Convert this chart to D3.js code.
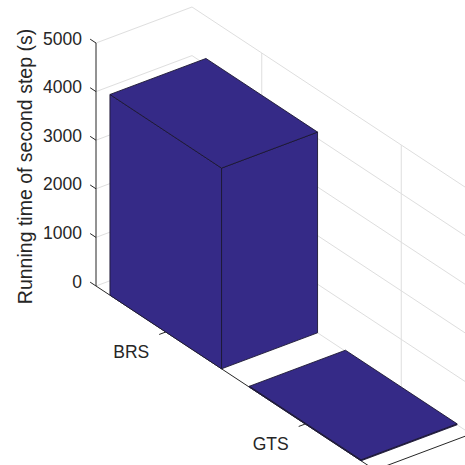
<!DOCTYPE html>
<html>
<head>
<meta charset="utf-8">
<script src="https://cdn.jsdelivr.net/npm/d3@7"></script>
<style>
  html, body { margin: 0; padding: 0; background: #fff; }
  svg { display: block; }
  text { font-family: "Liberation Sans", Arial, sans-serif; fill: #262626; }
</style>
</head>
<body>
<svg id="chart" width="465" height="465"></svg>
<script>
// Data
const categories = ["BRS", "GTS"];
const runningTime = [4130, 20];
const zTickValues = [0, 1000, 2000, 3000, 4000, 5000];
const zTickLabels = ["0", "1000", "2000", "3000", "4000", "5000"];
const yLabel = "Running time of second step (s)";

// 3-D axes limits (bar3 style: bars along y, single column along x)
const barWidth = 0.8;
const xLim = [0.6, 1.4];
const yLim = [0.5, 2.5];
const zLim = [0, 5000];

// Oblique projection built from linear scales
const xs = d3.scaleLinear().domain(xLim).range([0, 1]);
const ys = d3.scaleLinear().domain(yLim).range([0, 1]);
const zs = d3.scaleLinear().domain(zLim).range([286, 43]);
const origin = 96;                // screen x of (xmin, ymin)
const EX = [96, -36];             // screen span of the full x range
const EY = [279, 184];            // screen span of the full y range

function proj(x, y, z) {
  return [
    origin + xs(x) * EX[0] + ys(y) * EY[0],
    zs(z) + xs(x) * EX[1] + ys(y) * EY[1]
  ];
}
const line = d3.line();

const svg = d3.select("#chart");
const gGrid = svg.append("g");
const gAxes = svg.append("g");
const gBars = svg.append("g");
const gText = svg.append("g");

const gridColor = "#dedede";
const axisColor = "#262626";

// Grid on the left wall (y = ymin) and back wall (x = xmax)
zTickValues.forEach(v => {
  gGrid.append("path")
    .attr("d", line([proj(xLim[0], yLim[0], v), proj(xLim[1], yLim[0], v), proj(xLim[1], yLim[1], v)]))
    .attr("fill", "none").attr("stroke", gridColor).attr("stroke-width", 1);
});
// Category grid: vertical on the back wall, and across the floor
categories.forEach((c, i) => {
  const yv = i + 1;
  gGrid.append("path")
    .attr("d", line([proj(xLim[0], yv, 0), proj(xLim[1], yv, 0), proj(xLim[1], yv, zLim[1])]))
    .attr("fill", "none").attr("stroke", gridColor).attr("stroke-width", 1);
});

// Axis lines
gAxes.append("path")
  .attr("d", line([proj(xLim[0], yLim[0], zLim[1]), proj(xLim[0], yLim[0], 0)]))
  .attr("fill", "none").attr("stroke", axisColor).attr("stroke-width", 1);
gAxes.append("path")
  .attr("d", line([proj(xLim[0], yLim[0], 0), proj(xLim[0], yLim[1], 0), proj(xLim[1], yLim[1], 0)]))
  .attr("fill", "none").attr("stroke", axisColor).attr("stroke-width", 1);

// z ticks (pointing along -y) and labels
const eyLen = Math.hypot(EY[0], EY[1]);
const exLen = Math.hypot(EX[0], EX[1]);
const tickLen = 7;
zTickValues.forEach((v, i) => {
  const p = proj(xLim[0], yLim[0], v);
  gAxes.append("path")
    .attr("d", line([p, [p[0] - EY[0] / eyLen * tickLen, p[1] - EY[1] / eyLen * tickLen]]))
    .attr("stroke", axisColor).attr("stroke-width", 1);
  gText.append("text")
    .attr("x", 82).attr("y", p[1] - 4.5)
    .attr("dy", "0.35em")
    .attr("text-anchor", "end")
    .attr("font-size", "17.5px")
    .text(zTickLabels[i]);
});

// Category ticks (pointing along -x) and labels
categories.forEach((c, i) => {
  const p = proj(xLim[0], i + 1, 0);
  gAxes.append("path")
    .attr("d", line([p, [p[0] - EX[0] / exLen * tickLen, p[1] - EX[1] / exLen * tickLen]]))
    .attr("stroke", axisColor).attr("stroke-width", 1);
  gText.append("text")
    .attr("x", p[0] - 34.5).attr("y", p[1] + 19.5)
    .attr("dy", "0.35em")
    .attr("text-anchor", "middle")
    .attr("font-size", "17.5px")
    .text(c);
});

// Axis title
gText.append("text")
  .attr("transform", "translate(25,166.5) rotate(-90)")
  .attr("dy", "0.35em")
  .attr("text-anchor", "middle")
  .attr("font-size", "19.5px")
  .text(yLabel);

// Bars: visible faces are x = x0, y = y1 and the top
const barFill = "#352a87";
runningTime.forEach((h, i) => {
  const y0 = i + 1 - barWidth / 2, y1 = i + 1 + barWidth / 2;
  const x0 = xLim[0], x1 = xLim[1];
  const faces = [
    [[x0, y0, 0], [x0, y1, 0], [x0, y1, h], [x0, y0, h]],
    [[x0, y1, 0], [x1, y1, 0], [x1, y1, h], [x0, y1, h]],
    [[x0, y0, h], [x1, y0, h], [x1, y1, h], [x0, y1, h]]
  ];
  gBars.selectAll(null)
    .data(faces)
    .join("path")
    .attr("d", f => line(f.map(p => proj(...p))) + "Z")
    .attr("fill", barFill)
    .attr("stroke", "#1c1733")
    .attr("stroke-width", 0.9)
    .attr("stroke-linejoin", "round");
});
</script>
</body>
</html>
